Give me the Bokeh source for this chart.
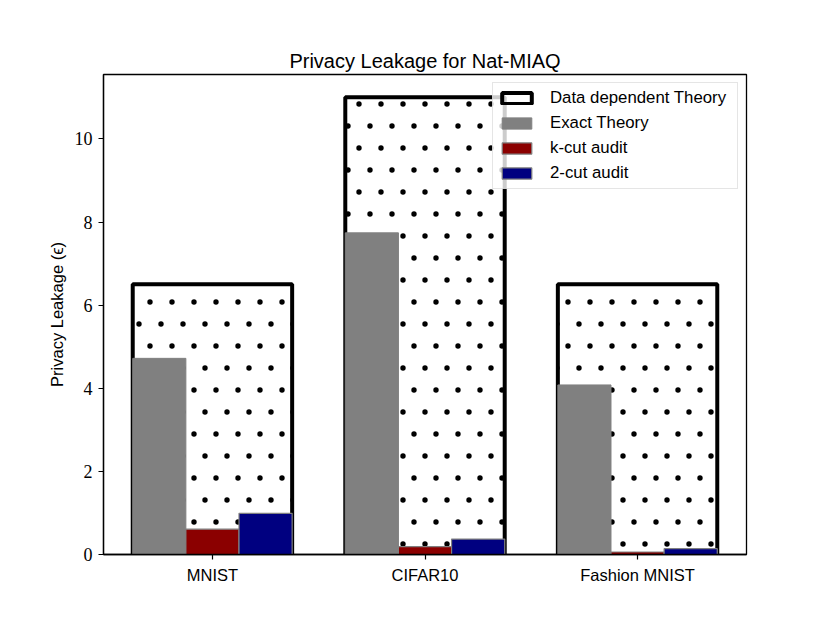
import base64
from bokeh.plotting import figure
from bokeh.models import ColumnDataSource, Range1d, FixedTicker, Legend, LegendItem, ImageURLTexture
from bokeh.core.properties import value
from bokeh.embed import file_html
from bokeh.resources import INLINE

# ---- data ----
datasets = ["MNIST", "CIFAR10", "Fashion MNIST"]
x_pos = [0, 1, 2]
data_dependent_theory = [6.5, 11.0, 6.5]
exact_theory = [4.72, 7.74, 4.08]
k_cut_audit = [0.61, 0.19, 0.06]
two_cut_audit = [0.99, 0.37, 0.14]
y_ticks = [0, 2, 4, 6, 8, 10]

src = ColumnDataSource(dict(
    x=x_pos,
    x_exact=[v - 0.25 for v in x_pos],
    x_two=[v + 0.25 for v in x_pos],
    ddt=data_dependent_theory,
    exact=exact_theory,
    kcut=k_cut_audit,
    two=two_cut_audit,
))

SANS = "Liberation Sans"
SERIF = "Liberation Serif"

p = figure(width=814, height=607, output_backend="svg", toolbar_location=None,
           x_range=Range1d(-0.5125, 2.5125), y_range=Range1d(0, 11.55),
           min_border_left=103, min_border_right=68, min_border_top=74, min_border_bottom=53,
           title="Privacy Leakage for Nat-MIAQ")

p.title.text_font = SANS
p.title.text_font_size = "20px"
p.title.text_font_style = "normal"
p.title.text_color = "black"
p.title.align = "center"
p.title.standoff = 6

p.outline_line_color = "black"
p.outline_line_width = 1.3
p.xgrid.visible = False
p.ygrid.visible = False

# staggered small-dot hatch tile (style only)
tile_svg = ("<svg xmlns='http://www.w3.org/2000/svg' width='22' height='44'>"
            "<circle cx='7' cy='16' r='2.7' fill='black'/>"
            "<circle cx='18' cy='38' r='2.7' fill='black'/></svg>")
tile_url = "data:image/svg+xml;base64," + base64.b64encode(tile_svg.encode()).decode()
dots = ImageURLTexture(url=tile_url)

# hatched data-dependent bars
p.vbar(x="x", top="ddt", width=0.75, source=src, fill_color=None, line_color=None,
       hatch_pattern=value("mydots"), hatch_extra={"mydots": dots}, hatch_color="black")
r_ddt = p.vbar(x="x", top="ddt", width=0.75, source=src, fill_alpha=0,
               line_color="black", line_width=4)
r_exact = p.vbar(x="x_exact", top="exact", width=0.25, source=src,
                 fill_color="#808080", line_color="#808080", line_width=1)
r_k = p.vbar(x="x", top="kcut", width=0.25, source=src,
             fill_color="#8b0000", line_color="#808080", line_width=1.2)
r_two = p.vbar(x="x_two", top="two", width=0.25, source=src,
               fill_color="#000080", line_color="#808080", line_width=1.2)

# axes
p.xaxis.ticker = FixedTicker(ticks=x_pos)
p.xaxis.major_label_overrides = {i: n for i, n in zip(x_pos, datasets)}
p.yaxis.ticker = FixedTicker(ticks=y_ticks)
for ax in (p.xaxis[0], p.yaxis[0]):
    ax.minor_tick_line_color = None
    ax.major_tick_in = 0
    ax.major_tick_out = 5
    ax.major_tick_line_width = 1.2
    ax.axis_line_width = 1.3
    ax.major_label_standoff = 6
p.xaxis.major_label_text_font = SANS
p.xaxis.major_label_text_font_size = "16.5px"
p.xaxis.major_label_text_color = "black"
p.yaxis.major_label_text_font = SERIF
p.yaxis.major_label_text_font_size = "18px"
p.yaxis.major_label_text_color = "black"
p.yaxis.axis_label = "Privacy Leakage (\u03f5)"
p.yaxis.axis_label_text_font = SANS
p.yaxis.axis_label_text_font_size = "16.5px"
p.yaxis.axis_label_text_font_style = "normal"
p.yaxis.axis_label_text_color = "black"
p.yaxis.axis_label_standoff = 6

legend = Legend(items=[
    LegendItem(label="Data dependent Theory", renderers=[r_ddt]),
    LegendItem(label="Exact Theory", renderers=[r_exact]),
    LegendItem(label="k-cut audit", renderers=[r_k]),
    LegendItem(label="2-cut audit", renderers=[r_two]),
], location="top_right")
legend.label_text_font = SANS
legend.label_text_font_size = "16.8px"
legend.label_text_color = "black"
legend.glyph_width = 37
legend.glyph_height = 14
legend.label_standoff = 15
legend.label_width = 182
legend.spacing = 5
legend.padding = 5
legend.margin = 8
legend.border_line_color = "#cccccc"
legend.border_line_width = 1.2
legend.background_fill_alpha = 0.8
p.add_layout(legend, "center")

open("out.html", "w").write(file_html(p, INLINE))
